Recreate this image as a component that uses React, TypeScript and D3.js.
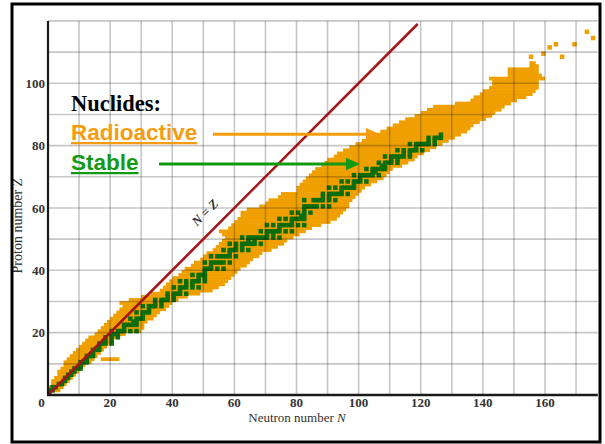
import React from "react";
import * as d3 from "d3";

// known radioactive nuclides, one row per proton number: first and last neutron number
const radZ = [
  1, 2, 3, 4, 5, 6, 7, 8, 9, 10, 11, 12, 13, 14, 15, 16, 17, 18, 19, 20,
  21, 22, 23, 24, 25, 26, 27, 28, 29, 30, 31, 32, 33, 34, 35, 36, 37, 38, 39, 40,
  41, 42, 43, 44, 45, 46, 47, 48, 49, 50, 51, 52, 53, 54, 55, 56, 57, 58, 59, 60,
  61, 62, 63, 64, 65, 66, 67, 68, 69, 70, 71, 72, 73, 74, 75, 76, 77, 78, 79, 80,
  81, 82, 83, 84, 85, 86, 87, 88, 89, 90, 91, 92, 93, 94, 95, 96, 97, 98, 99, 100,
  101, 102, 103, 104, 105, 106,
];
const radN0 = [
  0, 0, 1, 1, 2, 3, 3, 4, 5, 5, 6, 7, 8, 9, 10, 11, 12, 13, 15, 16,
  17, 18, 19, 20, 21, 22, 23, 24, 23, 26, 30, 33, 36, 37, 38, 39, 40, 42, 43, 44,
  46, 47, 49, 50, 51, 53, 54, 55, 56, 57, 56, 55, 58, 59, 60, 61, 62, 62, 64, 68,
  70, 71, 74, 75, 80, 80, 81, 82, 83, 84, 85, 86, 88, 89, 90, 92, 93, 95, 97, 99,
  101, 103, 105, 107, 109, 111, 113, 115, 118, 120, 122, 124, 131, 136, 137, 139, 140, 142, 143, 143,
  142, 148, 148, 148, 155, 155,
];
const radN1 = [
  3, 4, 5, 6, 7, 8, 9, 10, 11, 13, 14, 15, 16, 17, 18, 19, 20, 21, 24, 29,
  30, 30, 31, 33, 34, 35, 37, 38, 39, 41, 44, 48, 52, 54, 56, 57, 58, 59, 60, 61,
  63, 64, 65, 67, 68, 71, 73, 75, 76, 78, 80, 82, 84, 87, 90, 92, 93, 94, 95, 96,
  96, 97, 98, 99, 100, 101, 103, 105, 107, 108, 109, 110, 113, 115, 117, 118, 120, 122, 124, 126,
  128, 130, 132, 134, 135, 136, 138, 140, 142, 143, 145, 146, 148, 150, 153, 155, 156, 157, 157, 157,
  159, 158, 157, 157, 157, 156,
];

// detached neutron-rich run (sodium)
const extraZ = [11];
const extraN0 = [17];
const extraN1 = [22];

// isolated heaviest nuclides
const heavyZ = [108, 109, 111, 112, 108, 112, 116, 114];
const heavyN = [155, 159, 161, 163, 165, 169, 173, 175];

// stable nuclides: proton number and its stable neutron numbers
const stableZ = [
  1, 2, 3, 4, 5, 6, 7, 8, 9, 10, 11, 12, 13, 14, 15, 16, 17, 18, 19, 20,
  21, 22, 23, 24, 25, 26, 27, 28, 29, 30, 31, 32, 33, 34, 35, 36, 37, 38, 39, 40,
  41, 42, 44, 45, 46, 47, 48, 49, 50, 51, 52, 53, 54, 55, 56, 57, 58, 59, 60,
  62, 63, 64, 65, 66, 67, 68, 69, 70, 71, 72, 73, 74, 75, 76, 77, 78, 79, 80,
  81, 82, 83,
];
const stableN = [
  [0, 1], [1, 2], [3, 4], [5], [5, 6], [6, 7], [7, 8], [8, 9, 10], [10], [10, 11, 12],
  [12], [12, 13, 14], [14], [14, 15, 16], [16], [16, 17, 18, 20], [18, 20], [18, 20, 22], [20, 21, 22], [20, 22, 23, 24, 26, 28],
  [24], [24, 25, 26, 27, 28], [27, 28], [26, 28, 29, 30], [30], [28, 30, 31, 32], [32], [30, 32, 33, 34, 36], [34, 36], [34, 36, 37, 38, 40],
  [38, 40], [38, 40, 41, 42, 44], [42], [40, 42, 43, 44, 46, 48], [44, 46], [42, 44, 46, 47, 48, 50], [48, 50], [46, 48, 49, 50], [50], [50, 51, 52, 54, 56],
  [52], [50, 52, 53, 54, 55, 56, 58], [52, 54, 55, 56, 57, 58, 60], [58], [56, 58, 59, 60, 62, 64], [60, 62], [58, 60, 62, 63, 64, 65, 66, 68], [64, 66],
  [62, 64, 65, 66, 67, 68, 69, 70, 72, 74], [70, 72], [68, 70, 71, 72, 73, 74, 76, 78], [74], [70, 72, 74, 75, 76, 77, 78, 80, 82], [78],
  [74, 76, 78, 79, 80, 81, 82], [81, 82], [78, 80, 82, 84], [82], [82, 83, 84, 85, 86, 88, 90],
  [82, 85, 86, 87, 88, 90, 92], [88, 90], [88, 90, 91, 92, 93, 94, 96], [94], [90, 92, 94, 95, 96, 97, 98], [98], [94, 96, 98, 99, 100, 102], [100],
  [98, 100, 101, 102, 103, 104, 106], [104, 105], [102, 104, 105, 106, 107, 108], [107, 108], [106, 108, 109, 110, 112], [110, 112],
  [108, 110, 111, 112, 113, 114, 116], [114, 116], [112, 114, 116, 117, 118, 120], [118], [116, 118, 119, 120, 121, 122, 124],
  [122, 124], [122, 124, 125, 126], [126],
];

const xTicks = [20, 40, 60, 80, 100, 120, 140, 160];
const yTicks = [20, 40, 60, 80, 100];
const xGrid = [10, 20, 30, 40, 50, 60, 70, 80, 90, 100, 110, 120, 130, 140, 150, 160, 170];
const yGrid = [10, 20, 30, 40, 50, 60, 70, 80, 90, 100, 110, 120];

const ORANGE = "#efa000";
const GREEN = "#0b6e0b";

export default function App() {
  const x = d3.scaleLinear().domain([0, 177]).range([48, 597.8]);
  const y = d3.scaleLinear().domain([0, 120]).range([395, 20.9]);
  const ch = y(0) - y(1);
  // printed squares are a little larger than one unit cell
  const dot = 1.45;
  const serif = "'Liberation Serif', 'Times New Roman', serif";
  const sans = "'Liberation Sans', Arial, sans-serif";

  // rows overlap by a fraction of a pixel so no seams show between them
  const rowRect = (z: number, n0: number, n1: number, key: string) => (
    <rect key={key} x={x(n0)} y={y(z + 1) - 0.3} width={x(n1 + 1) - x(n0)} height={ch + 0.6} fill={ORANGE} />
  );
  const square = (n: number, z: number, fill: string, key: string) => (
    <rect
      key={key}
      x={x(n + 0.5 - dot / 2)}
      y={y(z + 0.5 + dot / 2)}
      width={x(dot) - x(0)}
      height={y(0) - y(dot)}
      fill={fill}
    />
  );

  return (
    <svg width={605} height={444} style={{ position: "absolute", left: 0, top: 0, background: "#fff" }}>
      <g>
        {radZ.map((z, i) => rowRect(z, radN0[i], radN1[i], "r" + i))}
        {extraZ.map((z, i) => rowRect(z, extraN0[i], extraN1[i], "e" + i))}
        {heavyZ.map((z, i) => square(heavyN[i], z, ORANGE, "h" + i))}
        {stableZ.map((z, i) => stableN[i].map((n) => square(n, z, GREEN, "s" + z + "-" + n)))}
      </g>

      <g stroke="#000" strokeOpacity={0.22} strokeWidth={1.6}>
        {xGrid.map((n) => (
          <line key={"gx" + n} x1={x(n)} x2={x(n)} y1={y(0)} y2={y(120)} />
        ))}
        {yGrid.map((z) => (
          <line key={"gy" + z} x1={x(0)} x2={x(177)} y1={y(z)} y2={y(z)} />
        ))}
      </g>

      <line x1={x(0)} y1={y(0)} x2={x(119)} y2={y(119)} stroke="#a3161a" strokeWidth={2.6} />
      <text
        transform={`translate(${x(51.5)},${y(57.5)}) rotate(-45)`}
        textAnchor="middle"
        fontFamily={serif}
        fontStyle="italic"
        fontWeight="bold"
        fontSize={13}
        fill="#333"
      >
        N = Z
      </text>

      <line x1={x(0)} x2={x(0)} y1={y(0) + 1} y2={y(120)} stroke="#1a1a1a" strokeWidth={2.2} />
      <line x1={x(0) - 1} x2={x(177)} y1={y(0)} y2={y(0)} stroke="#1a1a1a" strokeWidth={2.5} />

      <g fontFamily={serif} fontSize={13} fill="#333" fontWeight="bold">
        {yTicks.map((t) => (
          <text key={"yt" + t} x={45} y={y(t)} dy="0.35em" textAnchor="end">
            {t}
          </text>
        ))}
        {xTicks.map((t) => (
          <text key={"xt" + t} x={x(t)} y={406.5} textAnchor="middle">
            {t}
          </text>
        ))}
        <text x={41.5} y={406.5} textAnchor="middle">0</text>
      </g>

      <text x={297} y={421.5} textAnchor="middle" fontFamily={serif} fontSize={13} fill="#333">
        Neutron number <tspan fontStyle="italic">N</tspan>
      </text>
      <text
        transform="translate(22,226) rotate(-90)"
        textAnchor="middle"
        fontFamily={serif}
        fontSize={14}
        fill="#333"
      >
        Proton number <tspan fontStyle="italic">Z</tspan>
      </text>

      <text x={71} y={111} fontFamily={serif} fontWeight="bold" fontSize={22.5} fill="#000">
        Nuclides:
      </text>
      <text x={71} y={140} fontFamily={sans} fontWeight="bold" fontSize={22.5} fill="#f59d0e" textDecoration="underline">
        Radioactive
      </text>
      <text x={71} y={170} fontFamily={sans} fontWeight="bold" fontSize={22.5} fill="#139a13" textDecoration="underline">
        Stable
      </text>

      <line x1={213} y1={134.3} x2={368} y2={134.3} stroke="#f59d0e" strokeWidth={3} />
      <path d="M366,128 L380,134.3 L366,140.6 Z" fill="#f59d0e" />
      <line x1={159} y1={164} x2={348} y2={164} stroke="#139a13" strokeWidth={3} />
      <path d="M346,157.7 L360,164 L346,170.3 Z" fill="#139a13" />

      <rect x={12} y={4} width={588} height={438} fill="none" stroke="#000" strokeWidth={3} />
    </svg>
  );
}
